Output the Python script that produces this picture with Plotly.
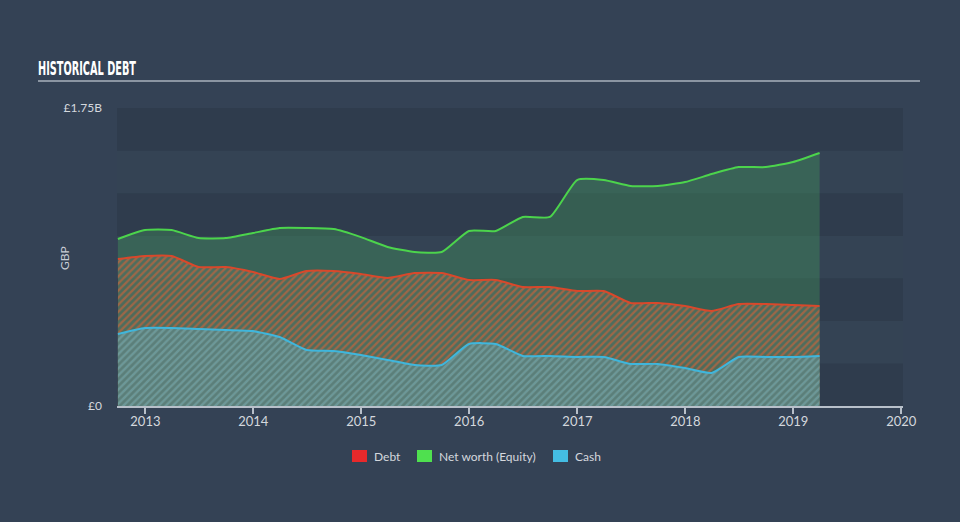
import plotly.graph_objects as go

# quarterly balance sheet points (GBP bn)
dates = [
    "2012-09-30", "2012-12-31", "2013-03-31", "2013-06-30", "2013-09-30",
    "2013-12-31", "2014-03-31", "2014-06-30", "2014-09-30", "2014-12-31",
    "2015-03-31", "2015-06-30", "2015-09-30", "2015-12-31", "2016-03-31",
    "2016-06-30", "2016-09-30", "2016-12-31", "2017-03-31", "2017-06-30",
    "2017-09-30", "2017-12-31", "2018-03-31", "2018-06-30", "2018-09-30",
    "2018-12-31", "2019-03-31",
]
equity = [0.981, 1.033, 1.033, 0.986, 0.986, 1.016, 1.045, 1.045, 1.039, 0.992,
          0.934, 0.904, 0.904, 1.028, 1.028, 1.110, 1.110, 1.327, 1.327, 1.292,
          1.292, 1.315, 1.362, 1.403, 1.403, 1.433, 1.486]
debt = [0.863, 0.881, 0.881, 0.816, 0.816, 0.787, 0.746, 0.793, 0.793, 0.775,
        0.752, 0.781, 0.781, 0.740, 0.740, 0.699, 0.699, 0.675, 0.675, 0.605,
        0.605, 0.587, 0.558, 0.599, 0.599, 0.593, 0.587]
cash = [0.423, 0.458, 0.458, 0.452, 0.446, 0.440, 0.405, 0.329, 0.323, 0.299,
        0.270, 0.241, 0.241, 0.364, 0.364, 0.294, 0.294, 0.288, 0.288, 0.247,
        0.247, 0.223, 0.194, 0.288, 0.288, 0.288, 0.294]

years = [2013, 2014, 2015, 2016, 2017, 2018, 2019, 2020]
y_max = 1.75e9
band = 0.25e9

B = 1e9
equity = [v * B for v in equity]
debt = [v * B for v in debt]
cash = [v * B for v in cash]

GREEN = "#4cd44c"
RED = "#d9482b"
CYAN = "#3fb6dc"
TXT = "#d4d8de"
SMOOTH = 0.5

fig = go.Figure()

fig.add_trace(go.Scatter(
    x=dates, y=equity, mode="lines", line=dict(color=GREEN, width=2, shape="spline", smoothing=SMOOTH),
    fill="tozeroy", fillcolor="rgba(70,165,95,0.33)", showlegend=False, hoverinfo="skip",
))
fig.add_trace(go.Scatter(
    x=dates, y=debt, mode="lines", line=dict(color=RED, width=2, shape="spline", smoothing=SMOOTH),
    fill="tozeroy", fillcolor="rgba(100,120,100,0.5)",
    fillpattern=dict(shape="/", fgcolor="#c0643e", fgopacity=0.7, size=5, solidity=0.45),
    showlegend=False, hoverinfo="skip",
))
fig.add_trace(go.Scatter(
    x=dates, y=cash, mode="lines", line=dict(color=CYAN, width=2, shape="spline", smoothing=SMOOTH),
    fill="tozeroy", fillcolor="rgba(95,135,135,0.7)",
    fillpattern=dict(shape="/", fgcolor="#6a9ea0", fgopacity=0.85, size=5, solidity=0.45),
    showlegend=False, hoverinfo="skip",
))

# alternating background bands
shapes = []
n = int(round(y_max / band))
for i in range(n):
    col = "#2f3c4d" if (n - 1 - i) % 2 == 0 else "#344354"
    shapes.append(dict(type="rect", xref="paper", yref="y", x0=0, x1=1,
                       y0=i * band, y1=(i + 1) * band, fillcolor=col,
                       line=dict(width=0), layer="below"))
# title underline
shapes.append(dict(type="line", xref="paper", yref="paper", x0=-0.1005, x1=1.0216,
                   y0=1.0906, y1=1.0906, line=dict(color="#a9b2bd", width=1.5)))

# hand-placed legend (paper coords)
legend_items = [("Debt", "#e8292b", 352), ("Net worth (Equity)", "#4fe04f", 417), ("Cash", "#44bde3", 553)]
annotations = [dict(text="GBP", xref="paper", yref="paper", x=-0.066, y=0.497, xanchor="center",
                    yanchor="middle", textangle=-90, showarrow=False,
                    font=dict(size=12, color="#c9ced6"))]
for name, col, px in legend_items:
    x0 = (px - 117) / 786
    x1 = (px + 15 - 117) / 786
    shapes.append(dict(type="rect", xref="paper", yref="paper", x0=x0, x1=x1,
                       y0=(406 - 462) / 298, y1=(406 - 450) / 298,
                       fillcolor=col, line=dict(width=0)))
    annotations.append(dict(text=name, xref="paper", yref="paper", x=(px + 20 - 117) / 786,
                            y=(406 - 456) / 298, xanchor="left", yanchor="middle",
                            showarrow=False, font=dict(size=12, color=TXT)))

fig.update_layout(
    width=960, height=522,
    margin=dict(l=117, r=57, t=108, b=116),
    paper_bgcolor="#344255",
    plot_bgcolor="#2f3c4d",
    font=dict(family="Lato, Open Sans, sans-serif", color=TXT, size=12),
    shapes=shapes,
    annotations=annotations,
    showlegend=False,
    title=dict(text="<b>HISTORICAL DEBT</b>", x=38 / 960, xanchor="left", xref="container",
               y=1 - 68 / 522, yanchor="middle", yref="container",
               font=dict(family="DejaVu Sans", size=19, color="#ffffff")),
)

fig.update_xaxes(
    type="date", range=["2012-09-27", "2020-01-07"],
    tickvals=[f"{y}-01-01" for y in years], ticktext=[str(y) for y in years],
    showgrid=False, zeroline=False, showline=True, linecolor="#b8c0ca", linewidth=1.5,
    ticks="outside", ticklen=6, tickcolor="#b8c0ca", tickwidth=1.5,
    tickfont=dict(size=13, color=TXT), ticklabelstandoff=-3,
)
fig.update_yaxes(
    range=[0, y_max], tickvals=[0, y_max], ticktext=["£0", "£1.75B"],
    showgrid=False, zeroline=False, showline=False, ticks="",
    tickfont=dict(size=12, color=TXT), ticklabelstandoff=14,
)

# squeeze the title into a condensed look, drop page margin
post = (
    "document.body.style.margin='0';"
    "document.body.style.background='#344255';"
    "var t=document.querySelector('.gtitle');"
    "if(t){t.setAttribute('textLength','98');t.setAttribute('lengthAdjust','spacingAndGlyphs');}"
)
fig.write_html("out.html", post_script=post, config={"displayModeBar": False})
